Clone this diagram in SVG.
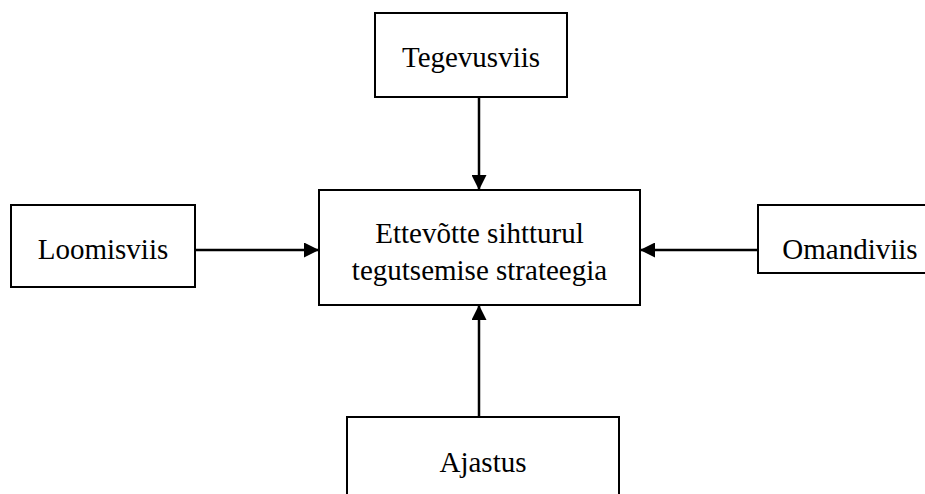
<svg xmlns="http://www.w3.org/2000/svg" width="925" height="494" viewBox="0 0 925 494">
<defs>
<style>
.box{fill:#fff;stroke:#000;stroke-width:2}
.lbl{font-family:"Liberation Serif","Times New Roman",serif;font-size:29px;fill:#000;text-anchor:middle}
.conn{stroke:#000;stroke-width:2.5;fill:none;marker-end:url(#ah)}
</style>
<marker id="ah" viewBox="0 0 15 15" refX="15" refY="7.5" markerWidth="15" markerHeight="15" markerUnits="userSpaceOnUse" orient="auto">
<path d="M0,0 L15,7.5 L0,15 Z" fill="#000"/>
</marker>
</defs>
<rect width="925" height="494" fill="#fff"/>
<g id="connectors">
<line class="conn" x1="479" y1="97" x2="479" y2="190"/>
<line class="conn" x1="195" y1="250" x2="319" y2="250"/>
<line class="conn" x1="758" y1="250" x2="640" y2="250"/>
<line class="conn" x1="479" y1="417" x2="479" y2="305"/>
</g>
<g id="main">
<rect class="box" x="319" y="190" width="321" height="115"/>
<text class="lbl" x="479.5" y="243">Ettevõtte sihtturul</text>
<text class="lbl" x="479.5" y="280">tegutsemise strateegia</text>
</g>
<g id="tegevusviis">
<rect class="box" x="375" y="13" width="192" height="84"/>
<text class="lbl" x="471" y="67">Tegevusviis</text>
</g>
<g id="loomisviis">
<rect class="box" x="11" y="205" width="184" height="82"/>
<text class="lbl" x="103" y="259">Loomisviis</text>
</g>
<g id="omandiviis">
<rect class="box" x="758" y="205" width="184" height="68"/>
<text class="lbl" x="850" y="259">Omandiviis</text>
</g>
<g id="ajastus">
<rect class="box" x="347" y="417" width="272" height="90"/>
<text class="lbl" x="483" y="472">Ajastus</text>
</g>
</svg>
